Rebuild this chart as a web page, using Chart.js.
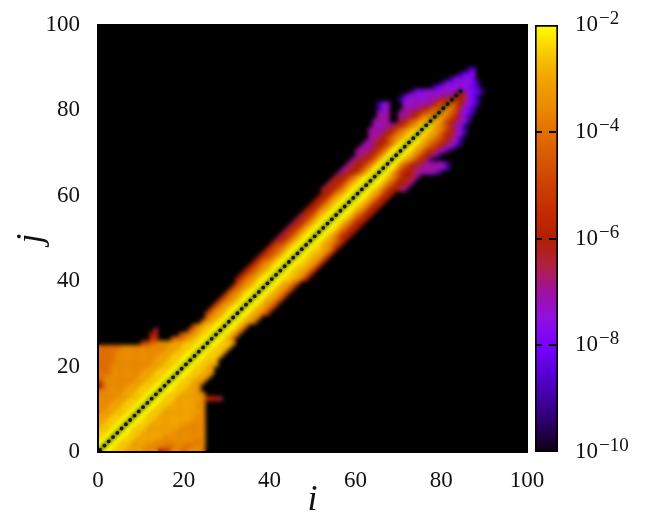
<!DOCTYPE html>
<html>
<head>
<meta charset="utf-8">
<script src="https://cdn.jsdelivr.net/npm/chart.js@4"></script>
<style>
    html, body { margin: 0; padding: 0; background: #fff; }
    #wrap { position: relative; width: 647px; height: 516px; overflow: hidden; }
    canvas { position: absolute; top: 0; }
    #heat { left: 0; }
    #bar { left: 520px; }
</style>
</head>
<body>
<div id="wrap">
    <canvas id="heat" width="647" height="516"></canvas>
    <canvas id="bar" width="127" height="516"></canvas>
</div>
<script>
// axis ticks
const axisTicks = [0, 20, 40, 60, 80, 100];
const barExponents = [-10, -8, -6, -4, -2];

// one letter per half decade, a = 1e-10 ... q = 1e-2, '.' = nothing (black)
const levelNames = 'abcdefghijklmnopq';
const levelColors = ['#100010', '#280060', '#4000a0', '#5a00d8', '#7800ff', '#9010e0', '#a010a0', '#b02040',
    '#b02000', '#c42c00', '#cc4000', '#d85800', '#e27000', '#ec8c00', '#f2a400', '#f8cc00', '#ffff00'];

// row j, cells i = j-1, j-2, ... going left from the diagonal
const leftOfDiagonal = [
    '', 'q', 'qq', 'qqp', 'qqpp', 'qqppp', 'qqpppo', 'qqpppoo', 'qqpppooo', 'qqpppooon',
    'qqpppooonn', 'qqpppooonnn', 'qqpppooonnnn', 'qqpppooonnnnn', 'qqpppooonnnnnm', 'qqpppooonnnnnmi',
    'qqpppooonnnnnnnk', 'qqpppooonnnnnnnnm', 'qqpppooonnnnnnnmmm', 'qqpppooonnnnnnnnmmm',
    'qqpppooonnnnnnnnnmmm', 'qqpppooonnnnnnnnnmmmm', 'qqpppooonnnnnnnnnnmmmm', 'qqpppooonnnnnnnnnnnmmmm',
    'qqpppooonnnnnnnnnnnmmmmm', 'qqpppooonnnmmkk', 'qqpponmml...jj', 'qqpponml.....ii', 'qqpponl.......h',
    'qqpponl', 'qqpoom', 'qqpoom', 'qqpoomk', 'qqpoomk', 'qqpoomk', 'qqponmk', 'qqponmk', 'qqponmk',
    'qqponmk', 'qqponmk', 'qqponmki', 'qqponmki', 'qqponmki', 'qqponmki', 'qqponmki', 'qqpomlki',
    'qqpomlki', 'qqpomlki', 'qqpomlki', 'qqpomkih', 'qqpomkih', 'qqpomkih', 'qqpomkih', 'qqpomkih',
    'qqpomkih', 'qqpomkih', 'qqponkii', 'qqponkii', 'qqponkii', 'qqponkii', 'qqponkii', 'qqpomkiih',
    'qqpomkiih', 'qqpomkiih', 'qqpomkiih', 'qqomkiihg', 'qqomkiihg', 'qqomkiihg', 'qqomkihhg', 'qqomkihhg',
    'qqomkihggg', 'qqomkihggg', 'qqomkiihgg', 'qponmkihgg', 'qponmkihggg', 'qponmkihgggg', 'qonmkihgggfg',
    'ponmkih..gggg', 'onmkihgg..ggg', 'nmlkihggg..gfg', 'mlkihgggg...gfc', 'lkiggggfgf...ffc', 'kihggfffgffc',
    'hggfgfgffffc', 'gffgffffefc', 'fffffec', 'fffefc', 'ffefc', 'feec', '.ec'
];

// row j, cells i = j+1, j+2, ... going right from the diagonal
const rightOfDiagonal = [
    'qqpppoooonnnnikknnmmnnnm', 'qqpppoooonnnnnmmnnmmnnn', 'qqpppooooonnnnnnnnnnmn', 'qqpppoooooonnnnnnnnnn',
    'qqpppooooooonnnnnnnn', 'qqpppoooooooonnnnnn', 'qqpppoooooooonnnnn', 'qqpppooooooooonnn', 'qqpppooooooooonn',
    'qqpppooooooooon', 'qqpppooooooonn', 'qqpppoooooonn', 'qqpppoooooonjjih', 'qqpppoooonn', 'qqpppooon', 'qqpppoon',
    'qqpppoon', 'qqpppooo', 'qqpppooo', 'qqpppoo', 'qqpppoo', 'qqpppo', 'qqpppo', 'qqpppo', 'qqpppo', 'qqpppo',
    'qqpom', 'qqpom', 'qqpom', 'qqpom', 'qqpoom', 'qqpoom', 'qqpoomk', 'qqpoomk', 'qqpoomk', 'qqpoomk', 'qqpoomk',
    'qqpoomk', 'qqpoomk', 'qqpoomk', 'qqppoomi', 'qqppoomi', 'qqppoomi', 'qqppoomi', 'qqppoomi', 'qqppoomi',
    'qqppoomi', 'qqppoomi', 'qqpoomki', 'qqpoomki', 'qqpomkii', 'qqpomkii', 'qqpomkii', 'qqpomkii', 'qqpomkii',
    'qqpomkii', 'qqponkii', 'qqponkii', 'qqponkii', 'qqponkii', 'qqponkii', 'qqpomkiihg', 'qqpomkiihg', 'qqpomkiihg',
    'qqpomkiihg', 'qqomkiihgggfgc', 'qqomkihhgggggfc', 'qqnmkihhgggfgc', 'qqoomkihc', 'qqoomkihgc', 'qqoomkihggc',
    'qqoomlkiggfc', 'qqoomlkihgfc', 'qpoomlkihfc', 'qpoomkihgfc', 'qponmkigfc', 'qonmkhgfc', 'pomkihgfc', 'onmkigfc',
    'onlkgfec', 'nmkhfec', 'mkigfec', 'kihfec', 'ihfec', 'gfeec', 'eec', 'ec', '', '', ''
];

// the diagonal itself is empty up to i = 84, only the tip has values
const tipRows = [85, 86, 87];
const tipLevels = ['f', 'f', 'e'];

const cells = [];
function addCell(i, j, letter) {
    if (letter === '.') return;
    cells.push({ x: i + 0.5, y: j + 0.5, level: levelNames.indexOf(letter) });
}
leftOfDiagonal.forEach((row, j) => {
    [...row].forEach((letter, k) => addCell(j - 1 - k, j, letter));
});
rightOfDiagonal.forEach((row, j) => {
    [...row].forEach((letter, k) => addCell(j + 1 + k, j, letter));
});
tipRows.forEach((j, k) => addCell(j, j, tipLevels[k]));

// empty cells on the diagonal, redrawn on top as dark dots
const diagonalCells = [];
leftOfDiagonal.forEach((row, j) => {
    if (j < tipRows[0]) diagonalCells.push({ x: j + 0.5, y: j + 0.5 });
});

const serif = 'Liberation Serif';

function useTicks(scale) {
    scale.ticks = axisTicks.map(v => ({ value: v }));
}

// black background, then soften the cells like the interpolated image
const heatPainter = {
    id: 'heatPainter',
    beforeDatasetsDraw(chart) {
        const a = chart.chartArea;
        chart.ctx.save();
        chart.ctx.fillStyle = '#000';
        chart.ctx.fillRect(a.left, a.top, a.width, a.height);
        chart.ctx.restore();
    },
    afterDatasetDraw(chart, args) {
        if (args.index !== 1) return;
        const a = chart.chartArea;
        const ctx = chart.ctx;
        const copy = document.createElement('canvas');
        copy.width = a.width;
        copy.height = a.height;
        copy.getContext('2d').drawImage(chart.canvas, a.left, a.top, a.width, a.height, 0, 0, a.width, a.height);
        ctx.save();
        ctx.beginPath();
        ctx.rect(a.left, a.top, a.width, a.height);
        ctx.clip();
        ctx.filter = 'blur(2.2px)';
        ctx.drawImage(copy, a.left, a.top);
        ctx.restore();
    },
    afterDraw(chart) {
        const a = chart.chartArea;
        chart.ctx.save();
        chart.ctx.strokeStyle = '#000';
        chart.ctx.lineWidth = 2;
        chart.ctx.strokeRect(a.left, a.top, a.width, a.height);
        chart.ctx.restore();
    }
};

new Chart(document.getElementById('heat'), {
    type: 'scatter',
    data: {
        datasets: [{
            // dots, index 0 is drawn last
            data: diagonalCells,
            pointStyle: 'circle',
            pointRadius: 1.9,
            pointBorderWidth: 0,
            pointBackgroundColor: '#0c1c0c'
        }, {
            data: cells,
            pointStyle: 'rect',
            pointBorderWidth: 0,
            pointRadius: ctx => {
                const x = ctx.chart.scales.x;
                return (x.getPixelForValue(1) - x.getPixelForValue(0) + 0.4) * Math.SQRT1_2;
            },
            pointBackgroundColor: ctx => ctx.raw ? levelColors[ctx.raw.level] : '#000'
        }]
    },
    options: {
        responsive: false,
        animation: false,
        events: [],
        layout: { padding: { top: 25, right: 120, left: 0, bottom: 0 } },
        plugins: { legend: { display: false }, tooltip: { enabled: false } },
        scales: {
            x: {
                min: 0,
                max: 100,
                afterBuildTicks: useTicks,
                afterFit(s) { s.height = 64; },
                grid: { display: false },
                border: { display: false },
                ticks: { autoSkip: false, maxRotation: 0, padding: 7, color: '#111', font: { family: serif, size: 23 } },
                title: { display: true, text: 'i', color: '#111', padding: { top: 0, bottom: -6 }, font: { family: serif, size: 36, style: 'italic' } }
            },
            y: {
                min: 0,
                max: 100,
                afterBuildTicks: useTicks,
                afterFit(s) { s.width = 98; },
                grid: { display: false },
                border: { display: false },
                ticks: { autoSkip: false, padding: 10, color: '#111', font: { family: serif, size: 23 } },
                title: { display: true, text: 'j', color: '#111', padding: { top: 10, bottom: 0 }, font: { family: serif, size: 36, style: 'italic' } }
            }
        }
    },
    plugins: [heatPainter]
});

// colour bar: one floating bar with the colour ramp as fill
const barPainter = {
    id: 'barPainter',
    afterDraw(chart) {
        const scale = chart.scales.y;
        const ctx = chart.ctx;
        ctx.save();
        ctx.fillStyle = '#111';
        ctx.font = '19px "' + serif + '"';
        ctx.textAlign = 'left';
        ctx.textBaseline = 'alphabetic';
        barExponents.forEach(e => {
            const y = scale.getPixelForValue(Math.pow(10, e));
            ctx.fillText('\u2212' + Math.abs(e), 79, y - 1);
        });
        ctx.restore();
    }
};

new Chart(document.getElementById('bar'), {
    type: 'bar',
    data: {
        labels: [''],
        datasets: [{
            data: [[1e-10, 1e-2]],
            barPercentage: 1,
            categoryPercentage: 1,
            borderColor: '#000',
            borderWidth: 2,
            borderSkipped: false,
            backgroundColor: ctx => {
                const a = ctx.chart.chartArea;
                if (!a) return '#000';
                const ramp = ctx.chart.ctx.createLinearGradient(0, a.bottom, 0, a.top);
                levelColors.forEach((c, k) => ramp.addColorStop(k / (levelColors.length - 1), c));
                return ramp;
            }
        }]
    },
    options: {
        responsive: false,
        animation: false,
        events: [],
        layout: { autoPadding: false, padding: { top: 25, bottom: 64, left: 15, right: 0 } },
        plugins: { legend: { display: false }, tooltip: { enabled: false } },
        scales: {
            x: { display: false },
            y: {
                type: 'logarithmic',
                position: 'right',
                min: 1e-10,
                max: 1e-2,
                afterBuildTicks(scale) {
                    scale.ticks = barExponents.map(e => ({ value: Math.pow(10, e) }));
                },
                afterFit(s) {
                    s.width = 89;
                    // the tick padding would otherwise push the bar down
                    s.paddingTop = 0;
                    s.paddingBottom = 0;
                },
                grid: {
                    color: c => (c.index === 0 || c.index === barExponents.length - 1) ? 'rgba(0,0,0,0)' : '#000',
                    lineWidth: 2,
                    drawTicks: false,
                    z: 1
                },
                border: { display: false, dash: [7, 7] },
                ticks: {
                    padding: 17,
                    color: '#111',
                    autoSkip: false,
                    font: { family: serif, size: 23 },
                    callback: () => '10'
                }
            }
        }
    },
    plugins: [barPainter]
});
</script>
</body>
</html>
